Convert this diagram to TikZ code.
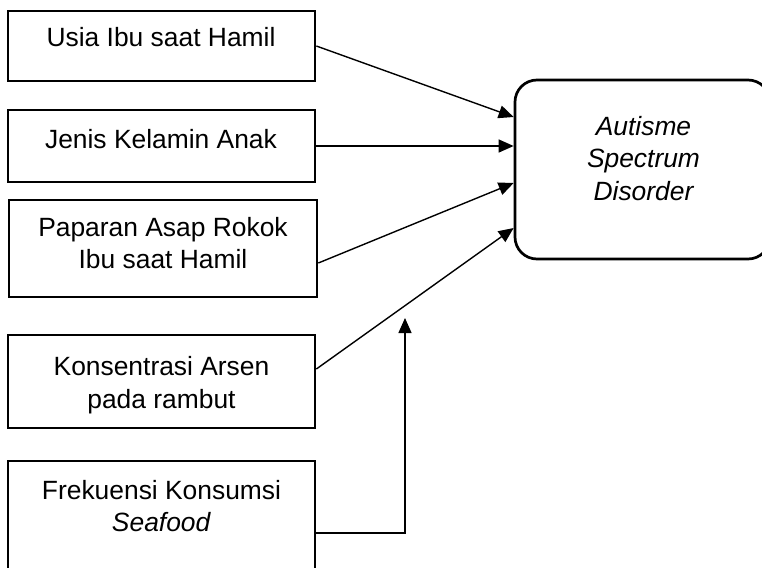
\documentclass[tikz,border=0pt]{standalone}
\usepackage{fontspec}
\setmainfont{Liberation Sans}
\usetikzlibrary{arrows.meta}
\tikzset{
  factor/.style={draw, line width=1.35pt, minimum width=153.5pt, inner sep=0pt},
  outcome/.style={draw, line width=1.35pt, rounded corners=11pt, minimum width=127.5pt, minimum height=89.5pt, inner sep=0pt},
  lbl/.style={align=center, inner sep=0pt, font=\fontsize{13.2pt}{16.3pt}\selectfont},
  link/.style={line width=0.7pt, -{Triangle[length=7.5pt,width=6.5pt]}}
}
\begin{document}
\begin{tikzpicture}[x=0.5pt, y=-0.5pt]
            \useasboundingbox (0,0) rectangle (762,568);
            \clip (0,0) rectangle (762,568);

            % faktor
            \node[factor, minimum height=35pt] (usia) at (161.5,46) {};
            \node[lbl] (usiatxt) at (161,37.5) {Usia Ibu saat Hamil};

            \node[factor, minimum height=36pt] (jenis) at (161.5,146) {};
            \node[lbl] (jenistxt) at (161,139) {Jenis Kelamin Anak};

            \node[factor, minimum width=154pt, minimum height=48.5pt] (asap) at (163,248.5) {};
            \node[lbl] (asaptxt) at (163,243) {Paparan Asap Rokok\\Ibu saat Hamil};

            \node[factor, minimum height=46.5pt] (arsen) at (161.5,381.5) {};
            \node[lbl] (arsentxt) at (161.5,385) {Konsentrasi Arsen\\pada rambut};

            \node[factor, minimum height=79pt] (seafood) at (161.5,540) {};
            \node[lbl] (seafoodtxt) at (161.5,506) {Frekuensi Konsumsi\\\textit{Seafood}};

            % ASD
            \node[outcome] (asd) at (642.5,169.5) {};
            \node[lbl, font=\fontsize{13.2pt}{16.3pt}\selectfont\itshape] (asdtxt) at (643.5,158.5) {Autisme\\Spectrum\\Disorder};

            % panah
            \draw[link] (usia.east) -- ([yshift=26.25pt]asd.west);
            \draw[link] (jenis.east) -- ([yshift=11.75pt]asd.west);
            \draw[link] ([yshift=-7.25pt]asap.east) -- ([yshift=-6.75pt]asd.west);
            \draw[link] ([yshift=6.25pt]arsen.east) -- ([yshift=-29.25pt]asd.west);

            % moderasi
            \coordinate (modtip) at (405,318);
            \draw[link] ([yshift=3.5pt]seafood.east) -| (modtip);
        \end{tikzpicture}
\end{document}
